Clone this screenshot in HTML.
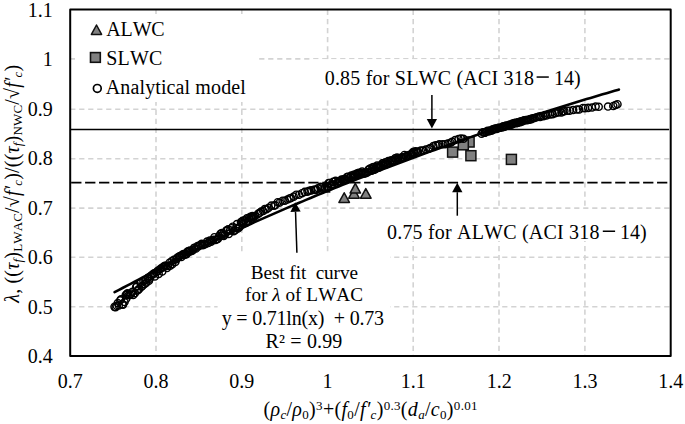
<!DOCTYPE html><html><head><meta charset="utf-8"><style>html,body{margin:0;padding:0;background:#fff;}svg{display:block;}text{font-family:"Liberation Serif", serif;font-kerning:none;font-feature-settings:"kern" 0;}</style></head><body>
<svg width="685" height="424" viewBox="0 0 685 424">
<rect x="0" y="0" width="685" height="424" fill="#fff"/>
<line x1="156.00" y1="9.82" x2="156.00" y2="356.20" stroke="#d3d3d3" stroke-width="1.6" stroke-dasharray="5.25 3.83"/>
<line x1="241.80" y1="9.82" x2="241.80" y2="356.20" stroke="#d3d3d3" stroke-width="1.6" stroke-dasharray="5.25 3.83"/>
<line x1="327.60" y1="9.82" x2="327.60" y2="356.20" stroke="#d3d3d3" stroke-width="1.6" stroke-dasharray="5.25 3.83"/>
<line x1="413.20" y1="9.82" x2="413.20" y2="356.20" stroke="#d3d3d3" stroke-width="1.6" stroke-dasharray="5.25 3.83"/>
<line x1="499.00" y1="9.82" x2="499.00" y2="356.20" stroke="#d3d3d3" stroke-width="1.6" stroke-dasharray="5.25 3.83"/>
<line x1="584.90" y1="9.82" x2="584.90" y2="356.20" stroke="#d3d3d3" stroke-width="1.6" stroke-dasharray="5.25 3.83"/>
<line x1="70.20" y1="58.90" x2="670.70" y2="58.90" stroke="#d3d3d3" stroke-width="1.6" stroke-dasharray="5.2 3.8"/>
<line x1="70.20" y1="109.30" x2="670.70" y2="109.30" stroke="#d3d3d3" stroke-width="1.6" stroke-dasharray="5.2 3.8"/>
<line x1="70.20" y1="158.70" x2="670.70" y2="158.70" stroke="#d3d3d3" stroke-width="1.6" stroke-dasharray="5.2 3.8"/>
<line x1="70.20" y1="208.10" x2="670.70" y2="208.10" stroke="#d3d3d3" stroke-width="1.6" stroke-dasharray="5.2 3.8"/>
<line x1="70.20" y1="257.30" x2="670.70" y2="257.30" stroke="#d3d3d3" stroke-width="1.6" stroke-dasharray="5.2 3.8"/>
<line x1="70.20" y1="306.70" x2="670.70" y2="306.70" stroke="#d3d3d3" stroke-width="1.6" stroke-dasharray="5.2 3.8"/>
<rect x="75" y="14" width="184" height="88" fill="#fff"/>
<rect x="313" y="59.1" width="277" height="38.4" fill="#fff"/>
<rect x="380" y="209" width="275" height="32" fill="#fff"/>
<rect x="217.6" y="254" width="172.4" height="101" fill="#fff"/>
<line x1="70.2" y1="129.5" x2="669.1" y2="129.5" stroke="#000" stroke-width="1.5"/>
<line x1="71.15" y1="182.6" x2="667.3" y2="182.6" stroke="#000" stroke-width="1.6" stroke-dasharray="10.3 3.65"/>
<rect x="464.10" y="137.00" width="10" height="10" fill="#808080" stroke="#111" stroke-width="1.5"/>
<rect x="458.30" y="139.80" width="10" height="10" fill="#808080" stroke="#111" stroke-width="1.5"/>
<rect x="447.60" y="147.10" width="10" height="10" fill="#808080" stroke="#111" stroke-width="1.5"/>
<rect x="465.90" y="150.70" width="10" height="10" fill="#808080" stroke="#111" stroke-width="1.5"/>
<rect x="506.40" y="154.40" width="10" height="10" fill="#808080" stroke="#111" stroke-width="1.5"/>
<path d="M324.50,182.37 L329.75,192.03 L319.25,192.03 Z" fill="#808080" stroke="#111" stroke-width="1.5" stroke-linejoin="round"/>
<path d="M344.20,192.77 L349.45,202.43 L338.95,202.43 Z" fill="#808080" stroke="#111" stroke-width="1.5" stroke-linejoin="round"/>
<path d="M354.00,188.47 L359.25,198.13 L348.75,198.13 Z" fill="#808080" stroke="#111" stroke-width="1.5" stroke-linejoin="round"/>
<path d="M355.30,183.37 L360.55,193.03 L350.05,193.03 Z" fill="#808080" stroke="#111" stroke-width="1.5" stroke-linejoin="round"/>
<path d="M365.80,188.57 L371.05,198.23 L360.55,198.23 Z" fill="#808080" stroke="#111" stroke-width="1.5" stroke-linejoin="round"/>
<circle cx="114.50" cy="306.86" r="3.55" fill="none" stroke="#000" stroke-width="1.45"/>
<circle cx="115.62" cy="307.15" r="3.55" fill="none" stroke="#000" stroke-width="1.45"/>
<circle cx="116.63" cy="305.79" r="3.55" fill="none" stroke="#000" stroke-width="1.45"/>
<circle cx="117.77" cy="302.99" r="3.55" fill="none" stroke="#000" stroke-width="1.45"/>
<circle cx="118.84" cy="305.57" r="3.55" fill="none" stroke="#000" stroke-width="1.45"/>
<circle cx="120.21" cy="300.21" r="3.55" fill="none" stroke="#000" stroke-width="1.45"/>
<circle cx="121.04" cy="299.27" r="3.55" fill="none" stroke="#000" stroke-width="1.45"/>
<circle cx="122.43" cy="304.20" r="3.55" fill="none" stroke="#000" stroke-width="1.45"/>
<circle cx="122.98" cy="304.63" r="3.55" fill="none" stroke="#000" stroke-width="1.45"/>
<circle cx="124.54" cy="302.03" r="3.55" fill="none" stroke="#000" stroke-width="1.45"/>
<circle cx="125.72" cy="295.01" r="3.55" fill="none" stroke="#000" stroke-width="1.45"/>
<circle cx="126.23" cy="298.69" r="3.55" fill="none" stroke="#000" stroke-width="1.45"/>
<circle cx="126.80" cy="294.04" r="3.55" fill="none" stroke="#000" stroke-width="1.45"/>
<circle cx="127.57" cy="293.36" r="3.55" fill="none" stroke="#000" stroke-width="1.45"/>
<circle cx="128.58" cy="295.24" r="3.55" fill="none" stroke="#000" stroke-width="1.45"/>
<circle cx="130.00" cy="295.03" r="3.55" fill="none" stroke="#000" stroke-width="1.45"/>
<circle cx="131.21" cy="293.60" r="3.55" fill="none" stroke="#000" stroke-width="1.45"/>
<circle cx="132.44" cy="291.86" r="3.55" fill="none" stroke="#000" stroke-width="1.45"/>
<circle cx="133.24" cy="294.89" r="3.55" fill="none" stroke="#000" stroke-width="1.45"/>
<circle cx="134.84" cy="293.22" r="3.55" fill="none" stroke="#000" stroke-width="1.45"/>
<circle cx="136.12" cy="287.01" r="3.55" fill="none" stroke="#000" stroke-width="1.45"/>
<circle cx="136.87" cy="286.17" r="3.55" fill="none" stroke="#000" stroke-width="1.45"/>
<circle cx="137.45" cy="290.56" r="3.55" fill="none" stroke="#000" stroke-width="1.45"/>
<circle cx="138.39" cy="289.63" r="3.55" fill="none" stroke="#000" stroke-width="1.45"/>
<circle cx="139.31" cy="288.74" r="3.55" fill="none" stroke="#000" stroke-width="1.45"/>
<circle cx="140.74" cy="283.07" r="3.55" fill="none" stroke="#000" stroke-width="1.45"/>
<circle cx="141.47" cy="286.75" r="3.55" fill="none" stroke="#000" stroke-width="1.45"/>
<circle cx="142.49" cy="285.85" r="3.55" fill="none" stroke="#000" stroke-width="1.45"/>
<circle cx="143.43" cy="281.26" r="3.55" fill="none" stroke="#000" stroke-width="1.45"/>
<circle cx="144.62" cy="284.06" r="3.55" fill="none" stroke="#000" stroke-width="1.45"/>
<circle cx="145.42" cy="279.90" r="3.55" fill="none" stroke="#000" stroke-width="1.45"/>
<circle cx="146.28" cy="282.73" r="3.55" fill="none" stroke="#000" stroke-width="1.45"/>
<circle cx="147.62" cy="278.20" r="3.55" fill="none" stroke="#000" stroke-width="1.45"/>
<circle cx="148.39" cy="277.61" r="3.55" fill="none" stroke="#000" stroke-width="1.45"/>
<circle cx="148.95" cy="280.71" r="3.55" fill="none" stroke="#000" stroke-width="1.45"/>
<circle cx="149.65" cy="278.84" r="3.55" fill="none" stroke="#000" stroke-width="1.45"/>
<circle cx="150.64" cy="275.90" r="3.55" fill="none" stroke="#000" stroke-width="1.45"/>
<circle cx="151.95" cy="274.93" r="3.55" fill="none" stroke="#000" stroke-width="1.45"/>
<circle cx="153.16" cy="274.03" r="3.55" fill="none" stroke="#000" stroke-width="1.45"/>
<circle cx="154.12" cy="273.32" r="3.55" fill="none" stroke="#000" stroke-width="1.45"/>
<circle cx="154.91" cy="276.49" r="3.55" fill="none" stroke="#000" stroke-width="1.45"/>
<circle cx="156.30" cy="272.15" r="3.55" fill="none" stroke="#000" stroke-width="1.45"/>
<circle cx="157.77" cy="270.68" r="3.55" fill="none" stroke="#000" stroke-width="1.45"/>
<circle cx="158.71" cy="273.90" r="3.55" fill="none" stroke="#000" stroke-width="1.45"/>
<circle cx="159.91" cy="269.17" r="3.55" fill="none" stroke="#000" stroke-width="1.45"/>
<circle cx="161.50" cy="268.06" r="3.55" fill="none" stroke="#000" stroke-width="1.45"/>
<circle cx="162.28" cy="271.43" r="3.55" fill="none" stroke="#000" stroke-width="1.45"/>
<circle cx="163.15" cy="267.29" r="3.55" fill="none" stroke="#000" stroke-width="1.45"/>
<circle cx="163.73" cy="266.53" r="3.55" fill="none" stroke="#000" stroke-width="1.45"/>
<circle cx="164.87" cy="265.75" r="3.55" fill="none" stroke="#000" stroke-width="1.45"/>
<circle cx="166.03" cy="265.89" r="3.55" fill="none" stroke="#000" stroke-width="1.45"/>
<circle cx="167.03" cy="268.05" r="3.55" fill="none" stroke="#000" stroke-width="1.45"/>
<circle cx="168.06" cy="266.01" r="3.55" fill="none" stroke="#000" stroke-width="1.45"/>
<circle cx="169.51" cy="262.66" r="3.55" fill="none" stroke="#000" stroke-width="1.45"/>
<circle cx="170.18" cy="265.76" r="3.55" fill="none" stroke="#000" stroke-width="1.45"/>
<circle cx="171.58" cy="261.31" r="3.55" fill="none" stroke="#000" stroke-width="1.45"/>
<circle cx="172.29" cy="264.16" r="3.55" fill="none" stroke="#000" stroke-width="1.45"/>
<circle cx="173.83" cy="259.88" r="3.55" fill="none" stroke="#000" stroke-width="1.45"/>
<circle cx="175.37" cy="262.00" r="3.55" fill="none" stroke="#000" stroke-width="1.45"/>
<circle cx="176.53" cy="259.20" r="3.55" fill="none" stroke="#000" stroke-width="1.45"/>
<circle cx="177.15" cy="257.80" r="3.55" fill="none" stroke="#000" stroke-width="1.45"/>
<circle cx="178.71" cy="256.84" r="3.55" fill="none" stroke="#000" stroke-width="1.45"/>
<circle cx="179.98" cy="256.10" r="3.55" fill="none" stroke="#000" stroke-width="1.45"/>
<circle cx="181.39" cy="256.95" r="3.55" fill="none" stroke="#000" stroke-width="1.45"/>
<circle cx="182.21" cy="254.72" r="3.55" fill="none" stroke="#000" stroke-width="1.45"/>
<circle cx="183.50" cy="253.95" r="3.55" fill="none" stroke="#000" stroke-width="1.45"/>
<circle cx="184.25" cy="254.90" r="3.55" fill="none" stroke="#000" stroke-width="1.45"/>
<circle cx="185.69" cy="254.22" r="3.55" fill="none" stroke="#000" stroke-width="1.45"/>
<circle cx="186.50" cy="254.27" r="3.55" fill="none" stroke="#000" stroke-width="1.45"/>
<circle cx="187.23" cy="251.78" r="3.55" fill="none" stroke="#000" stroke-width="1.45"/>
<circle cx="188.02" cy="252.09" r="3.55" fill="none" stroke="#000" stroke-width="1.45"/>
<circle cx="188.59" cy="251.00" r="3.55" fill="none" stroke="#000" stroke-width="1.45"/>
<circle cx="189.49" cy="251.69" r="3.55" fill="none" stroke="#000" stroke-width="1.45"/>
<circle cx="190.14" cy="250.53" r="3.55" fill="none" stroke="#000" stroke-width="1.45"/>
<circle cx="191.62" cy="251.06" r="3.55" fill="none" stroke="#000" stroke-width="1.45"/>
<circle cx="192.84" cy="250.14" r="3.55" fill="none" stroke="#000" stroke-width="1.45"/>
<circle cx="193.98" cy="247.98" r="3.55" fill="none" stroke="#000" stroke-width="1.45"/>
<circle cx="194.52" cy="247.68" r="3.55" fill="none" stroke="#000" stroke-width="1.45"/>
<circle cx="196.02" cy="248.41" r="3.55" fill="none" stroke="#000" stroke-width="1.45"/>
<circle cx="197.58" cy="246.03" r="3.55" fill="none" stroke="#000" stroke-width="1.45"/>
<circle cx="198.78" cy="246.21" r="3.55" fill="none" stroke="#000" stroke-width="1.45"/>
<circle cx="200.09" cy="244.95" r="3.55" fill="none" stroke="#000" stroke-width="1.45"/>
<circle cx="201.69" cy="243.86" r="3.55" fill="none" stroke="#000" stroke-width="1.45"/>
<circle cx="202.79" cy="245.22" r="3.55" fill="none" stroke="#000" stroke-width="1.45"/>
<circle cx="204.28" cy="244.56" r="3.55" fill="none" stroke="#000" stroke-width="1.45"/>
<circle cx="205.55" cy="244.06" r="3.55" fill="none" stroke="#000" stroke-width="1.45"/>
<circle cx="207.06" cy="241.53" r="3.55" fill="none" stroke="#000" stroke-width="1.45"/>
<circle cx="208.31" cy="242.90" r="3.55" fill="none" stroke="#000" stroke-width="1.45"/>
<circle cx="209.77" cy="240.52" r="3.55" fill="none" stroke="#000" stroke-width="1.45"/>
<circle cx="211.14" cy="241.74" r="3.55" fill="none" stroke="#000" stroke-width="1.45"/>
<circle cx="212.27" cy="240.54" r="3.55" fill="none" stroke="#000" stroke-width="1.45"/>
<circle cx="213.19" cy="239.87" r="3.55" fill="none" stroke="#000" stroke-width="1.45"/>
<circle cx="214.36" cy="237.18" r="3.55" fill="none" stroke="#000" stroke-width="1.45"/>
<circle cx="215.56" cy="239.94" r="3.55" fill="none" stroke="#000" stroke-width="1.45"/>
<circle cx="217.03" cy="239.17" r="3.55" fill="none" stroke="#000" stroke-width="1.45"/>
<circle cx="217.96" cy="238.82" r="3.55" fill="none" stroke="#000" stroke-width="1.45"/>
<circle cx="219.10" cy="236.05" r="3.55" fill="none" stroke="#000" stroke-width="1.45"/>
<circle cx="220.52" cy="233.78" r="3.55" fill="none" stroke="#000" stroke-width="1.45"/>
<circle cx="221.84" cy="233.02" r="3.55" fill="none" stroke="#000" stroke-width="1.45"/>
<circle cx="223.00" cy="234.37" r="3.55" fill="none" stroke="#000" stroke-width="1.45"/>
<circle cx="223.76" cy="235.91" r="3.55" fill="none" stroke="#000" stroke-width="1.45"/>
<circle cx="224.80" cy="234.64" r="3.55" fill="none" stroke="#000" stroke-width="1.45"/>
<circle cx="226.32" cy="230.48" r="3.55" fill="none" stroke="#000" stroke-width="1.45"/>
<circle cx="226.83" cy="230.62" r="3.55" fill="none" stroke="#000" stroke-width="1.45"/>
<circle cx="228.08" cy="229.40" r="3.55" fill="none" stroke="#000" stroke-width="1.45"/>
<circle cx="228.76" cy="233.92" r="3.55" fill="none" stroke="#000" stroke-width="1.45"/>
<circle cx="229.99" cy="230.19" r="3.55" fill="none" stroke="#000" stroke-width="1.45"/>
<circle cx="231.47" cy="228.17" r="3.55" fill="none" stroke="#000" stroke-width="1.45"/>
<circle cx="232.70" cy="226.66" r="3.55" fill="none" stroke="#000" stroke-width="1.45"/>
<circle cx="233.68" cy="231.23" r="3.55" fill="none" stroke="#000" stroke-width="1.45"/>
<circle cx="235.18" cy="230.34" r="3.55" fill="none" stroke="#000" stroke-width="1.45"/>
<circle cx="236.10" cy="228.06" r="3.55" fill="none" stroke="#000" stroke-width="1.45"/>
<circle cx="236.95" cy="224.14" r="3.55" fill="none" stroke="#000" stroke-width="1.45"/>
<circle cx="238.00" cy="228.58" r="3.55" fill="none" stroke="#000" stroke-width="1.45"/>
<circle cx="239.43" cy="227.25" r="3.55" fill="none" stroke="#000" stroke-width="1.45"/>
<circle cx="240.98" cy="222.03" r="3.55" fill="none" stroke="#000" stroke-width="1.45"/>
<circle cx="241.66" cy="223.26" r="3.55" fill="none" stroke="#000" stroke-width="1.45"/>
<circle cx="242.47" cy="220.90" r="3.55" fill="none" stroke="#000" stroke-width="1.45"/>
<circle cx="243.42" cy="223.70" r="3.55" fill="none" stroke="#000" stroke-width="1.45"/>
<circle cx="244.46" cy="220.31" r="3.55" fill="none" stroke="#000" stroke-width="1.45"/>
<circle cx="245.89" cy="222.92" r="3.55" fill="none" stroke="#000" stroke-width="1.45"/>
<circle cx="246.89" cy="218.37" r="3.55" fill="none" stroke="#000" stroke-width="1.45"/>
<circle cx="247.42" cy="221.72" r="3.55" fill="none" stroke="#000" stroke-width="1.45"/>
<circle cx="247.97" cy="220.99" r="3.55" fill="none" stroke="#000" stroke-width="1.45"/>
<circle cx="249.09" cy="217.67" r="3.55" fill="none" stroke="#000" stroke-width="1.45"/>
<circle cx="250.46" cy="216.75" r="3.55" fill="none" stroke="#000" stroke-width="1.45"/>
<circle cx="251.11" cy="217.51" r="3.55" fill="none" stroke="#000" stroke-width="1.45"/>
<circle cx="251.64" cy="218.60" r="3.55" fill="none" stroke="#000" stroke-width="1.45"/>
<circle cx="252.40" cy="215.99" r="3.55" fill="none" stroke="#000" stroke-width="1.45"/>
<circle cx="252.95" cy="217.18" r="3.55" fill="none" stroke="#000" stroke-width="1.45"/>
<circle cx="253.94" cy="216.54" r="3.55" fill="none" stroke="#000" stroke-width="1.45"/>
<circle cx="255.17" cy="216.01" r="3.55" fill="none" stroke="#000" stroke-width="1.45"/>
<circle cx="258.09" cy="213.88" r="3.55" fill="none" stroke="#000" stroke-width="1.45"/>
<circle cx="259.65" cy="212.81" r="3.55" fill="none" stroke="#000" stroke-width="1.45"/>
<circle cx="261.17" cy="211.53" r="3.55" fill="none" stroke="#000" stroke-width="1.45"/>
<circle cx="263.22" cy="211.02" r="3.55" fill="none" stroke="#000" stroke-width="1.45"/>
<circle cx="264.74" cy="209.03" r="3.55" fill="none" stroke="#000" stroke-width="1.45"/>
<circle cx="266.57" cy="209.22" r="3.55" fill="none" stroke="#000" stroke-width="1.45"/>
<circle cx="268.70" cy="207.81" r="3.55" fill="none" stroke="#000" stroke-width="1.45"/>
<circle cx="271.26" cy="205.65" r="3.55" fill="none" stroke="#000" stroke-width="1.45"/>
<circle cx="273.89" cy="205.77" r="3.55" fill="none" stroke="#000" stroke-width="1.45"/>
<circle cx="275.25" cy="205.12" r="3.55" fill="none" stroke="#000" stroke-width="1.45"/>
<circle cx="277.75" cy="202.18" r="3.55" fill="none" stroke="#000" stroke-width="1.45"/>
<circle cx="279.76" cy="202.60" r="3.55" fill="none" stroke="#000" stroke-width="1.45"/>
<circle cx="282.60" cy="200.66" r="3.55" fill="none" stroke="#000" stroke-width="1.45"/>
<circle cx="284.82" cy="200.70" r="3.55" fill="none" stroke="#000" stroke-width="1.45"/>
<circle cx="287.46" cy="199.55" r="3.55" fill="none" stroke="#000" stroke-width="1.45"/>
<circle cx="289.49" cy="198.44" r="3.55" fill="none" stroke="#000" stroke-width="1.45"/>
<circle cx="291.06" cy="197.94" r="3.55" fill="none" stroke="#000" stroke-width="1.45"/>
<circle cx="293.73" cy="196.63" r="3.55" fill="none" stroke="#000" stroke-width="1.45"/>
<circle cx="296.23" cy="194.67" r="3.55" fill="none" stroke="#000" stroke-width="1.45"/>
<circle cx="299.05" cy="194.76" r="3.55" fill="none" stroke="#000" stroke-width="1.45"/>
<circle cx="302.01" cy="193.16" r="3.55" fill="none" stroke="#000" stroke-width="1.45"/>
<circle cx="304.63" cy="191.90" r="3.55" fill="none" stroke="#000" stroke-width="1.45"/>
<circle cx="307.47" cy="191.61" r="3.55" fill="none" stroke="#000" stroke-width="1.45"/>
<circle cx="309.29" cy="190.77" r="3.55" fill="none" stroke="#000" stroke-width="1.45"/>
<circle cx="311.29" cy="190.36" r="3.55" fill="none" stroke="#000" stroke-width="1.45"/>
<circle cx="313.87" cy="189.69" r="3.55" fill="none" stroke="#000" stroke-width="1.45"/>
<circle cx="315.12" cy="189.87" r="3.55" fill="none" stroke="#000" stroke-width="1.45"/>
<circle cx="316.44" cy="189.68" r="3.55" fill="none" stroke="#000" stroke-width="1.45"/>
<circle cx="317.95" cy="188.25" r="3.55" fill="none" stroke="#000" stroke-width="1.45"/>
<circle cx="320.57" cy="186.80" r="3.55" fill="none" stroke="#000" stroke-width="1.45"/>
<circle cx="322.03" cy="187.40" r="3.55" fill="none" stroke="#000" stroke-width="1.45"/>
<circle cx="324.54" cy="187.82" r="3.55" fill="none" stroke="#000" stroke-width="1.45"/>
<circle cx="326.98" cy="187.03" r="3.55" fill="none" stroke="#000" stroke-width="1.45"/>
<circle cx="328.02" cy="186.65" r="3.55" fill="none" stroke="#000" stroke-width="1.45"/>
<circle cx="328.61" cy="183.14" r="3.55" fill="none" stroke="#000" stroke-width="1.45"/>
<circle cx="329.69" cy="182.92" r="3.55" fill="none" stroke="#000" stroke-width="1.45"/>
<circle cx="331.00" cy="184.76" r="3.55" fill="none" stroke="#000" stroke-width="1.45"/>
<circle cx="332.07" cy="185.09" r="3.55" fill="none" stroke="#000" stroke-width="1.45"/>
<circle cx="333.19" cy="181.89" r="3.55" fill="none" stroke="#000" stroke-width="1.45"/>
<circle cx="334.11" cy="184.27" r="3.55" fill="none" stroke="#000" stroke-width="1.45"/>
<circle cx="335.60" cy="180.73" r="3.55" fill="none" stroke="#000" stroke-width="1.45"/>
<circle cx="337.03" cy="183.02" r="3.55" fill="none" stroke="#000" stroke-width="1.45"/>
<circle cx="338.11" cy="181.63" r="3.55" fill="none" stroke="#000" stroke-width="1.45"/>
<circle cx="338.83" cy="181.16" r="3.55" fill="none" stroke="#000" stroke-width="1.45"/>
<circle cx="339.88" cy="181.09" r="3.55" fill="none" stroke="#000" stroke-width="1.45"/>
<circle cx="340.41" cy="181.57" r="3.55" fill="none" stroke="#000" stroke-width="1.45"/>
<circle cx="341.48" cy="179.53" r="3.55" fill="none" stroke="#000" stroke-width="1.45"/>
<circle cx="342.86" cy="179.74" r="3.55" fill="none" stroke="#000" stroke-width="1.45"/>
<circle cx="343.90" cy="179.89" r="3.55" fill="none" stroke="#000" stroke-width="1.45"/>
<circle cx="344.48" cy="179.05" r="3.55" fill="none" stroke="#000" stroke-width="1.45"/>
<circle cx="345.43" cy="179.56" r="3.55" fill="none" stroke="#000" stroke-width="1.45"/>
<circle cx="346.95" cy="177.12" r="3.55" fill="none" stroke="#000" stroke-width="1.45"/>
<circle cx="347.97" cy="176.70" r="3.55" fill="none" stroke="#000" stroke-width="1.45"/>
<circle cx="348.94" cy="178.38" r="3.55" fill="none" stroke="#000" stroke-width="1.45"/>
<circle cx="350.43" cy="176.79" r="3.55" fill="none" stroke="#000" stroke-width="1.45"/>
<circle cx="351.28" cy="175.57" r="3.55" fill="none" stroke="#000" stroke-width="1.45"/>
<circle cx="352.46" cy="177.31" r="3.55" fill="none" stroke="#000" stroke-width="1.45"/>
<circle cx="353.11" cy="177.12" r="3.55" fill="none" stroke="#000" stroke-width="1.45"/>
<circle cx="353.63" cy="174.75" r="3.55" fill="none" stroke="#000" stroke-width="1.45"/>
<circle cx="354.38" cy="176.47" r="3.55" fill="none" stroke="#000" stroke-width="1.45"/>
<circle cx="355.23" cy="174.67" r="3.55" fill="none" stroke="#000" stroke-width="1.45"/>
<circle cx="356.42" cy="173.75" r="3.55" fill="none" stroke="#000" stroke-width="1.45"/>
<circle cx="357.72" cy="173.28" r="3.55" fill="none" stroke="#000" stroke-width="1.45"/>
<circle cx="358.78" cy="172.89" r="3.55" fill="none" stroke="#000" stroke-width="1.45"/>
<circle cx="359.50" cy="174.08" r="3.55" fill="none" stroke="#000" stroke-width="1.45"/>
<circle cx="360.48" cy="172.92" r="3.55" fill="none" stroke="#000" stroke-width="1.45"/>
<circle cx="361.43" cy="173.39" r="3.55" fill="none" stroke="#000" stroke-width="1.45"/>
<circle cx="362.11" cy="171.63" r="3.55" fill="none" stroke="#000" stroke-width="1.45"/>
<circle cx="363.30" cy="173.32" r="3.55" fill="none" stroke="#000" stroke-width="1.45"/>
<circle cx="364.39" cy="173.56" r="3.55" fill="none" stroke="#000" stroke-width="1.45"/>
<circle cx="365.56" cy="173.13" r="3.55" fill="none" stroke="#000" stroke-width="1.45"/>
<circle cx="366.32" cy="172.79" r="3.55" fill="none" stroke="#000" stroke-width="1.45"/>
<circle cx="367.71" cy="172.32" r="3.55" fill="none" stroke="#000" stroke-width="1.45"/>
<circle cx="368.56" cy="169.48" r="3.55" fill="none" stroke="#000" stroke-width="1.45"/>
<circle cx="370.07" cy="168.49" r="3.55" fill="none" stroke="#000" stroke-width="1.45"/>
<circle cx="371.67" cy="170.75" r="3.55" fill="none" stroke="#000" stroke-width="1.45"/>
<circle cx="372.32" cy="167.58" r="3.55" fill="none" stroke="#000" stroke-width="1.45"/>
<circle cx="373.62" cy="167.11" r="3.55" fill="none" stroke="#000" stroke-width="1.45"/>
<circle cx="374.22" cy="169.70" r="3.55" fill="none" stroke="#000" stroke-width="1.45"/>
<circle cx="375.19" cy="169.29" r="3.55" fill="none" stroke="#000" stroke-width="1.45"/>
<circle cx="375.82" cy="167.03" r="3.55" fill="none" stroke="#000" stroke-width="1.45"/>
<circle cx="377.08" cy="165.63" r="3.55" fill="none" stroke="#000" stroke-width="1.45"/>
<circle cx="377.80" cy="167.79" r="3.55" fill="none" stroke="#000" stroke-width="1.45"/>
<circle cx="379.30" cy="167.53" r="3.55" fill="none" stroke="#000" stroke-width="1.45"/>
<circle cx="379.93" cy="165.89" r="3.55" fill="none" stroke="#000" stroke-width="1.45"/>
<circle cx="381.26" cy="165.31" r="3.55" fill="none" stroke="#000" stroke-width="1.45"/>
<circle cx="382.52" cy="163.39" r="3.55" fill="none" stroke="#000" stroke-width="1.45"/>
<circle cx="383.09" cy="163.16" r="3.55" fill="none" stroke="#000" stroke-width="1.45"/>
<circle cx="383.64" cy="164.56" r="3.55" fill="none" stroke="#000" stroke-width="1.45"/>
<circle cx="384.70" cy="164.20" r="3.55" fill="none" stroke="#000" stroke-width="1.45"/>
<circle cx="385.36" cy="162.23" r="3.55" fill="none" stroke="#000" stroke-width="1.45"/>
<circle cx="386.09" cy="164.55" r="3.55" fill="none" stroke="#000" stroke-width="1.45"/>
<circle cx="387.68" cy="163.85" r="3.55" fill="none" stroke="#000" stroke-width="1.45"/>
<circle cx="388.28" cy="161.05" r="3.55" fill="none" stroke="#000" stroke-width="1.45"/>
<circle cx="389.83" cy="161.48" r="3.55" fill="none" stroke="#000" stroke-width="1.45"/>
<circle cx="391.17" cy="160.26" r="3.55" fill="none" stroke="#000" stroke-width="1.45"/>
<circle cx="392.18" cy="160.76" r="3.55" fill="none" stroke="#000" stroke-width="1.45"/>
<circle cx="393.16" cy="160.76" r="3.55" fill="none" stroke="#000" stroke-width="1.45"/>
<circle cx="393.67" cy="161.01" r="3.55" fill="none" stroke="#000" stroke-width="1.45"/>
<circle cx="395.10" cy="158.35" r="3.55" fill="none" stroke="#000" stroke-width="1.45"/>
<circle cx="396.10" cy="160.17" r="3.55" fill="none" stroke="#000" stroke-width="1.45"/>
<circle cx="397.04" cy="157.61" r="3.55" fill="none" stroke="#000" stroke-width="1.45"/>
<circle cx="397.73" cy="158.50" r="3.55" fill="none" stroke="#000" stroke-width="1.45"/>
<circle cx="398.24" cy="159.32" r="3.55" fill="none" stroke="#000" stroke-width="1.45"/>
<circle cx="399.62" cy="158.57" r="3.55" fill="none" stroke="#000" stroke-width="1.45"/>
<circle cx="401.07" cy="157.68" r="3.55" fill="none" stroke="#000" stroke-width="1.45"/>
<circle cx="402.02" cy="157.20" r="3.55" fill="none" stroke="#000" stroke-width="1.45"/>
<circle cx="403.07" cy="157.40" r="3.55" fill="none" stroke="#000" stroke-width="1.45"/>
<circle cx="404.46" cy="154.93" r="3.55" fill="none" stroke="#000" stroke-width="1.45"/>
<circle cx="405.96" cy="156.29" r="3.55" fill="none" stroke="#000" stroke-width="1.45"/>
<circle cx="407.31" cy="155.81" r="3.55" fill="none" stroke="#000" stroke-width="1.45"/>
<circle cx="408.26" cy="155.47" r="3.55" fill="none" stroke="#000" stroke-width="1.45"/>
<circle cx="409.73" cy="154.74" r="3.55" fill="none" stroke="#000" stroke-width="1.45"/>
<circle cx="411.07" cy="154.46" r="3.55" fill="none" stroke="#000" stroke-width="1.45"/>
<circle cx="412.02" cy="154.04" r="3.55" fill="none" stroke="#000" stroke-width="1.45"/>
<circle cx="412.60" cy="152.48" r="3.55" fill="none" stroke="#000" stroke-width="1.45"/>
<circle cx="413.61" cy="151.83" r="3.55" fill="none" stroke="#000" stroke-width="1.45"/>
<circle cx="414.50" cy="152.90" r="3.55" fill="none" stroke="#000" stroke-width="1.45"/>
<circle cx="415.69" cy="151.17" r="3.55" fill="none" stroke="#000" stroke-width="1.45"/>
<circle cx="417.23" cy="152.09" r="3.55" fill="none" stroke="#000" stroke-width="1.45"/>
<circle cx="418.10" cy="151.79" r="3.55" fill="none" stroke="#000" stroke-width="1.45"/>
<circle cx="420.74" cy="150.54" r="3.55" fill="none" stroke="#000" stroke-width="1.45"/>
<circle cx="423.02" cy="150.53" r="3.55" fill="none" stroke="#000" stroke-width="1.45"/>
<circle cx="425.80" cy="149.53" r="3.55" fill="none" stroke="#000" stroke-width="1.45"/>
<circle cx="428.83" cy="148.77" r="3.55" fill="none" stroke="#000" stroke-width="1.45"/>
<circle cx="430.37" cy="147.91" r="3.55" fill="none" stroke="#000" stroke-width="1.45"/>
<circle cx="433.35" cy="145.98" r="3.55" fill="none" stroke="#000" stroke-width="1.45"/>
<circle cx="435.65" cy="145.32" r="3.55" fill="none" stroke="#000" stroke-width="1.45"/>
<circle cx="437.54" cy="145.16" r="3.55" fill="none" stroke="#000" stroke-width="1.45"/>
<circle cx="439.24" cy="144.33" r="3.55" fill="none" stroke="#000" stroke-width="1.45"/>
<circle cx="442.55" cy="144.29" r="3.55" fill="none" stroke="#000" stroke-width="1.45"/>
<circle cx="445.07" cy="144.17" r="3.55" fill="none" stroke="#000" stroke-width="1.45"/>
<circle cx="447.70" cy="143.45" r="3.55" fill="none" stroke="#000" stroke-width="1.45"/>
<circle cx="450.48" cy="142.68" r="3.55" fill="none" stroke="#000" stroke-width="1.45"/>
<circle cx="452.13" cy="141.81" r="3.55" fill="none" stroke="#000" stroke-width="1.45"/>
<circle cx="455.15" cy="140.03" r="3.55" fill="none" stroke="#000" stroke-width="1.45"/>
<circle cx="458.51" cy="139.12" r="3.55" fill="none" stroke="#000" stroke-width="1.45"/>
<circle cx="460.95" cy="138.45" r="3.55" fill="none" stroke="#000" stroke-width="1.45"/>
<circle cx="463.45" cy="138.71" r="3.55" fill="none" stroke="#000" stroke-width="1.45"/>
<circle cx="481.55" cy="133.72" r="3.55" fill="none" stroke="#000" stroke-width="1.45"/>
<circle cx="482.87" cy="132.23" r="3.55" fill="none" stroke="#000" stroke-width="1.45"/>
<circle cx="484.46" cy="132.84" r="3.55" fill="none" stroke="#000" stroke-width="1.45"/>
<circle cx="485.04" cy="132.66" r="3.55" fill="none" stroke="#000" stroke-width="1.45"/>
<circle cx="486.01" cy="131.79" r="3.55" fill="none" stroke="#000" stroke-width="1.45"/>
<circle cx="487.58" cy="130.85" r="3.55" fill="none" stroke="#000" stroke-width="1.45"/>
<circle cx="488.66" cy="131.56" r="3.55" fill="none" stroke="#000" stroke-width="1.45"/>
<circle cx="489.95" cy="130.60" r="3.55" fill="none" stroke="#000" stroke-width="1.45"/>
<circle cx="491.53" cy="130.69" r="3.55" fill="none" stroke="#000" stroke-width="1.45"/>
<circle cx="492.69" cy="129.36" r="3.55" fill="none" stroke="#000" stroke-width="1.45"/>
<circle cx="493.88" cy="129.41" r="3.55" fill="none" stroke="#000" stroke-width="1.45"/>
<circle cx="494.60" cy="128.80" r="3.55" fill="none" stroke="#000" stroke-width="1.45"/>
<circle cx="495.68" cy="128.49" r="3.55" fill="none" stroke="#000" stroke-width="1.45"/>
<circle cx="496.67" cy="128.97" r="3.55" fill="none" stroke="#000" stroke-width="1.45"/>
<circle cx="497.67" cy="127.93" r="3.55" fill="none" stroke="#000" stroke-width="1.45"/>
<circle cx="498.81" cy="127.88" r="3.55" fill="none" stroke="#000" stroke-width="1.45"/>
<circle cx="500.17" cy="127.68" r="3.55" fill="none" stroke="#000" stroke-width="1.45"/>
<circle cx="501.77" cy="127.59" r="3.55" fill="none" stroke="#000" stroke-width="1.45"/>
<circle cx="503.07" cy="126.34" r="3.55" fill="none" stroke="#000" stroke-width="1.45"/>
<circle cx="503.70" cy="127.01" r="3.55" fill="none" stroke="#000" stroke-width="1.45"/>
<circle cx="505.06" cy="126.39" r="3.55" fill="none" stroke="#000" stroke-width="1.45"/>
<circle cx="505.96" cy="125.55" r="3.55" fill="none" stroke="#000" stroke-width="1.45"/>
<circle cx="507.21" cy="125.66" r="3.55" fill="none" stroke="#000" stroke-width="1.45"/>
<circle cx="508.36" cy="125.44" r="3.55" fill="none" stroke="#000" stroke-width="1.45"/>
<circle cx="509.69" cy="124.44" r="3.55" fill="none" stroke="#000" stroke-width="1.45"/>
<circle cx="510.46" cy="125.01" r="3.55" fill="none" stroke="#000" stroke-width="1.45"/>
<circle cx="511.97" cy="124.57" r="3.55" fill="none" stroke="#000" stroke-width="1.45"/>
<circle cx="512.51" cy="123.64" r="3.55" fill="none" stroke="#000" stroke-width="1.45"/>
<circle cx="513.31" cy="123.68" r="3.55" fill="none" stroke="#000" stroke-width="1.45"/>
<circle cx="514.50" cy="123.08" r="3.55" fill="none" stroke="#000" stroke-width="1.45"/>
<circle cx="515.59" cy="122.77" r="3.55" fill="none" stroke="#000" stroke-width="1.45"/>
<circle cx="516.19" cy="123.24" r="3.55" fill="none" stroke="#000" stroke-width="1.45"/>
<circle cx="517.29" cy="122.86" r="3.55" fill="none" stroke="#000" stroke-width="1.45"/>
<circle cx="518.20" cy="122.38" r="3.55" fill="none" stroke="#000" stroke-width="1.45"/>
<circle cx="518.94" cy="121.97" r="3.55" fill="none" stroke="#000" stroke-width="1.45"/>
<circle cx="520.26" cy="122.20" r="3.55" fill="none" stroke="#000" stroke-width="1.45"/>
<circle cx="520.84" cy="121.31" r="3.55" fill="none" stroke="#000" stroke-width="1.45"/>
<circle cx="522.23" cy="121.47" r="3.55" fill="none" stroke="#000" stroke-width="1.45"/>
<circle cx="523.57" cy="120.56" r="3.55" fill="none" stroke="#000" stroke-width="1.45"/>
<circle cx="524.54" cy="120.31" r="3.55" fill="none" stroke="#000" stroke-width="1.45"/>
<circle cx="525.93" cy="120.09" r="3.55" fill="none" stroke="#000" stroke-width="1.45"/>
<circle cx="527.15" cy="120.32" r="3.55" fill="none" stroke="#000" stroke-width="1.45"/>
<circle cx="528.01" cy="119.80" r="3.55" fill="none" stroke="#000" stroke-width="1.45"/>
<circle cx="529.33" cy="119.74" r="3.55" fill="none" stroke="#000" stroke-width="1.45"/>
<circle cx="530.30" cy="118.93" r="3.55" fill="none" stroke="#000" stroke-width="1.45"/>
<circle cx="531.45" cy="119.19" r="3.55" fill="none" stroke="#000" stroke-width="1.45"/>
<circle cx="532.58" cy="118.16" r="3.55" fill="none" stroke="#000" stroke-width="1.45"/>
<circle cx="534.48" cy="118.02" r="3.55" fill="none" stroke="#000" stroke-width="1.45"/>
<circle cx="536.58" cy="117.21" r="3.55" fill="none" stroke="#000" stroke-width="1.45"/>
<circle cx="538.82" cy="116.57" r="3.55" fill="none" stroke="#000" stroke-width="1.45"/>
<circle cx="540.16" cy="116.90" r="3.55" fill="none" stroke="#000" stroke-width="1.45"/>
<circle cx="541.29" cy="116.05" r="3.55" fill="none" stroke="#000" stroke-width="1.45"/>
<circle cx="543.45" cy="116.18" r="3.55" fill="none" stroke="#000" stroke-width="1.45"/>
<circle cx="544.90" cy="115.09" r="3.55" fill="none" stroke="#000" stroke-width="1.45"/>
<circle cx="546.48" cy="115.55" r="3.55" fill="none" stroke="#000" stroke-width="1.45"/>
<circle cx="548.06" cy="114.35" r="3.55" fill="none" stroke="#000" stroke-width="1.45"/>
<circle cx="550.20" cy="114.46" r="3.55" fill="none" stroke="#000" stroke-width="1.45"/>
<circle cx="552.67" cy="114.28" r="3.55" fill="none" stroke="#000" stroke-width="1.45"/>
<circle cx="555.13" cy="113.15" r="3.55" fill="none" stroke="#000" stroke-width="1.45"/>
<circle cx="557.41" cy="112.41" r="3.55" fill="none" stroke="#000" stroke-width="1.45"/>
<circle cx="558.92" cy="112.30" r="3.55" fill="none" stroke="#000" stroke-width="1.45"/>
<circle cx="561.42" cy="112.56" r="3.55" fill="none" stroke="#000" stroke-width="1.45"/>
<circle cx="562.81" cy="111.45" r="3.55" fill="none" stroke="#000" stroke-width="1.45"/>
<circle cx="564.40" cy="111.15" r="3.55" fill="none" stroke="#000" stroke-width="1.45"/>
<circle cx="567.19" cy="110.69" r="3.55" fill="none" stroke="#000" stroke-width="1.45"/>
<circle cx="569.58" cy="110.67" r="3.55" fill="none" stroke="#000" stroke-width="1.45"/>
<circle cx="573.17" cy="110.01" r="3.55" fill="none" stroke="#000" stroke-width="1.45"/>
<circle cx="576.85" cy="109.47" r="3.55" fill="none" stroke="#000" stroke-width="1.45"/>
<circle cx="579.20" cy="109.54" r="3.55" fill="none" stroke="#000" stroke-width="1.45"/>
<circle cx="582.96" cy="107.94" r="3.55" fill="none" stroke="#000" stroke-width="1.45"/>
<circle cx="585.01" cy="108.17" r="3.55" fill="none" stroke="#000" stroke-width="1.45"/>
<circle cx="588.10" cy="107.86" r="3.55" fill="none" stroke="#000" stroke-width="1.45"/>
<circle cx="592.03" cy="107.49" r="3.55" fill="none" stroke="#000" stroke-width="1.45"/>
<circle cx="595.64" cy="106.48" r="3.55" fill="none" stroke="#000" stroke-width="1.45"/>
<circle cx="598.73" cy="106.76" r="3.55" fill="none" stroke="#000" stroke-width="1.45"/>
<circle cx="608.00" cy="106.60" r="3.55" fill="none" stroke="#000" stroke-width="1.45"/>
<circle cx="613.30" cy="105.90" r="3.55" fill="none" stroke="#000" stroke-width="1.45"/>
<circle cx="615.60" cy="105.00" r="3.55" fill="none" stroke="#000" stroke-width="1.45"/>
<circle cx="617.50" cy="104.20" r="3.55" fill="none" stroke="#000" stroke-width="1.45"/>
<path d="M114.60,292.20 L118.60,290.08 L122.60,287.98 L126.60,285.90 L130.60,283.82 L134.60,281.76 L138.60,279.61 L142.60,277.47 L146.60,275.34 L150.60,273.22 L154.60,271.11 L158.60,269.02 L162.60,266.94 L166.60,264.86 L170.60,262.80 L174.60,260.76 L178.60,258.72 L182.60,256.69 L186.60,254.68 L190.60,252.68 L194.60,250.68 L198.60,248.70 L202.60,246.74 L206.60,244.79 L210.60,242.85 L214.60,240.92 L218.60,239.01 L222.60,237.10 L226.60,235.20 L230.60,233.31 L234.60,231.44 L238.60,229.57 L242.60,227.71 L246.60,225.86 L250.60,224.02 L254.60,222.19 L258.60,220.40 L262.60,218.62 L266.60,216.86 L270.60,215.10 L274.60,213.35 L278.60,211.61 L282.60,209.87 L286.60,208.15 L290.60,206.43 L294.60,204.73 L298.60,203.03 L302.60,201.34 L306.60,199.65 L310.60,197.98 L314.60,196.31 L318.60,194.65 L322.60,193.00 L326.60,191.36 L330.60,189.72 L334.60,188.11 L338.60,186.49 L342.60,184.89 L346.60,183.30 L350.60,181.71 L354.60,180.13 L358.60,178.55 L362.60,176.98 L366.60,175.42 L370.60,173.87 L374.60,172.32 L378.60,170.79 L382.60,169.25 L386.60,167.73 L390.60,166.21 L394.60,164.70 L398.60,163.19 L402.60,161.69 L406.60,160.20 L410.60,158.71 L414.60,157.23 L418.60,155.76 L422.60,154.29 L426.60,152.83 L430.60,151.37 L434.60,149.92 L438.60,148.48 L442.60,147.04 L446.60,145.61 L450.60,144.19 L454.60,142.77 L458.60,141.35 L462.60,139.94 L466.60,138.54 L470.60,137.14 L474.60,135.75 L478.60,134.36 L482.60,132.98 L486.60,131.61 L490.60,130.24 L494.60,128.87 L498.60,127.51 L502.60,126.16 L506.60,124.81 L510.60,123.47 L514.60,122.13 L518.60,120.80 L522.60,119.47 L526.60,118.15 L530.60,116.83 L534.60,115.51 L538.60,114.21 L542.60,112.91 L546.60,111.62 L550.60,110.34 L554.60,109.06 L558.60,107.79 L562.60,106.52 L566.60,105.26 L570.60,104.00 L574.60,102.75 L578.60,101.50 L582.60,100.28 L586.60,99.08 L590.60,97.89 L594.60,96.70 L598.60,95.51 L602.60,94.33 L606.60,93.16 L610.60,91.98 L614.60,90.82 L618.60,89.65 L618.90,89.56" fill="none" stroke="#000" stroke-width="2.6" stroke-linecap="round"/>
<line x1="431.90" y1="95.00" x2="431.90" y2="119.00" stroke="#000" stroke-width="1.5"/><path d="M431.90,128.50 L426.75,119.00 L437.05,119.00 Z" fill="#000"/>
<line x1="457.30" y1="215.70" x2="457.30" y2="192.20" stroke="#000" stroke-width="1.5"/><path d="M457.30,182.70 L462.45,192.20 L452.15,192.20 Z" fill="#000"/>
<line x1="296.90" y1="252.70" x2="295.52" y2="211.79" stroke="#000" stroke-width="1.5"/><path d="M295.20,202.30 L300.67,211.62 L290.37,211.97 Z" fill="#000"/>
<rect x="70.20" y="9.50" width="600.50" height="346.50" fill="none" stroke="#000" stroke-width="2" stroke-linejoin="round"/>
<text x="70.20" y="387.8" font-size="20" text-anchor="middle">0.7</text>
<text x="155.99" y="387.8" font-size="20" text-anchor="middle">0.8</text>
<text x="241.77" y="387.8" font-size="20" text-anchor="middle">0.9</text>
<text x="327.56" y="387.8" font-size="20" text-anchor="middle">1</text>
<text x="413.34" y="387.8" font-size="20" text-anchor="middle">1.1</text>
<text x="499.13" y="387.8" font-size="20" text-anchor="middle">1.2</text>
<text x="584.91" y="387.8" font-size="20" text-anchor="middle">1.3</text>
<text x="670.70" y="387.8" font-size="20" text-anchor="middle">1.4</text>
<text x="52.7" y="363.10" font-size="20" text-anchor="end">0.4</text>
<text x="52.7" y="313.63" font-size="20" text-anchor="end">0.5</text>
<text x="52.7" y="264.16" font-size="20" text-anchor="end">0.6</text>
<text x="52.7" y="214.69" font-size="20" text-anchor="end">0.7</text>
<text x="52.7" y="165.21" font-size="20" text-anchor="end">0.8</text>
<text x="52.7" y="115.74" font-size="20" text-anchor="end">0.9</text>
<text x="52.7" y="66.27" font-size="20" text-anchor="end">1</text>
<text x="52.7" y="16.80" font-size="20" text-anchor="end">1.1</text>
<path d="M96.50,25.01 L101.60,34.39 L91.40,34.39 Z" fill="#808080" stroke="#111" stroke-width="1.5" stroke-linejoin="round"/>
<rect x="90.5" y="52.6" width="9.8" height="9.7" fill="#808080" stroke="#111" stroke-width="1.6"/>
<circle cx="97.3" cy="88.4" r="3.9" fill="none" stroke="#000" stroke-width="1.7"/>
<text x="106.3" y="36.4" font-size="20" textLength="58.4" lengthAdjust="spacing" xml:space="preserve">ALWC</text>
<text x="106.2" y="65.3" font-size="20" textLength="56.2" lengthAdjust="spacing" xml:space="preserve">SLWC</text>
<text x="105.8" y="94.0" font-size="20" textLength="140" lengthAdjust="spacing" xml:space="preserve">Analytical model</text>
<text x="324.7" y="84.5" font-size="20" textLength="209.2" lengthAdjust="spacing" xml:space="preserve">0.85 for SLWC (ACI 318</text>
<rect x="536.6" y="76.3" width="12.2" height="1.5" fill="#000"/>
<text x="553.9" y="84.5" font-size="20" xml:space="preserve">14)</text>
<text x="387.0" y="238.6" font-size="20" textLength="212.4" lengthAdjust="spacing" xml:space="preserve">0.75 for ALWC (ACI 318</text>
<rect x="602.8" y="230.5" width="12.3" height="1.5" fill="#000"/>
<text x="620.1" y="238.6" font-size="20" xml:space="preserve">14)</text>
<text x="250.7" y="278.5" font-size="19.2" textLength="107.3" lengthAdjust="spacing" xml:space="preserve">Best fit  curve</text>
<text x="245.0" y="301.2" font-size="19.2" textLength="118" lengthAdjust="spacing" xml:space="preserve">for <tspan font-style="italic">λ</tspan> of LWAC</text>
<text x="221.7" y="324.9" font-size="20" textLength="162.3" lengthAdjust="spacing" xml:space="preserve">y = 0.71ln(x)  + 0.73</text>
<text x="265.6" y="347.7" font-size="20" textLength="76.7" lengthAdjust="spacing" xml:space="preserve">R² = 0.99</text>
<text x="370.5" y="415.5" font-size="20" text-anchor="middle" textLength="214" lengthAdjust="spacing">(<tspan font-style="italic">ρ</tspan><tspan font-style="italic" font-size="13" dy="3.3">c</tspan><tspan dy="-3.3">/</tspan><tspan font-style="italic">ρ</tspan><tspan font-size="13" dy="3.3">0</tspan><tspan dy="-3.3">)</tspan><tspan font-size="13" dy="-6.0">3</tspan><tspan dy="6.0">+(</tspan><tspan font-style="italic">f</tspan><tspan font-size="13" dy="3.3">0</tspan><tspan dy="-3.3">/</tspan><tspan font-style="italic">f′</tspan><tspan font-style="italic" font-size="13" dy="3.3">c</tspan><tspan dy="-3.3">)</tspan><tspan font-size="13" dy="-6.0">0.3</tspan><tspan dy="6.0">(</tspan><tspan font-style="italic">d</tspan><tspan font-style="italic" font-size="13" dy="3.3">a</tspan><tspan dy="-3.3">/</tspan><tspan font-style="italic">c</tspan><tspan font-size="13" dy="3.3">0</tspan><tspan dy="-3.3">)</tspan><tspan font-size="13" dy="-6.0">0.01</tspan></text>
<text transform="translate(18.5,183.8) rotate(-90)" x="0" y="0" font-size="20" text-anchor="middle" textLength="237.8" lengthAdjust="spacing"><tspan font-style="italic">λ</tspan>, ((<tspan font-style="italic">τ</tspan><tspan font-style="italic" font-size="13" dy="3.3">f</tspan><tspan dy="-3.3">)</tspan><tspan font-size="13" dy="3.3">LWAC</tspan><tspan dy="-3.3">/√</tspan><tspan font-style="italic">f′</tspan><tspan font-style="italic" font-size="13" dy="3.3">c</tspan><tspan dy="-3.3">)/((</tspan><tspan font-style="italic">τ</tspan><tspan font-style="italic" font-size="13" dy="3.3">f</tspan><tspan dy="-3.3">)</tspan><tspan font-size="13" dy="3.3">NWC</tspan><tspan dy="-3.3">/√</tspan><tspan font-style="italic">f′</tspan><tspan font-style="italic" font-size="13" dy="3.3">c</tspan><tspan dy="-3.3">)</tspan></text>
</svg></body></html>
